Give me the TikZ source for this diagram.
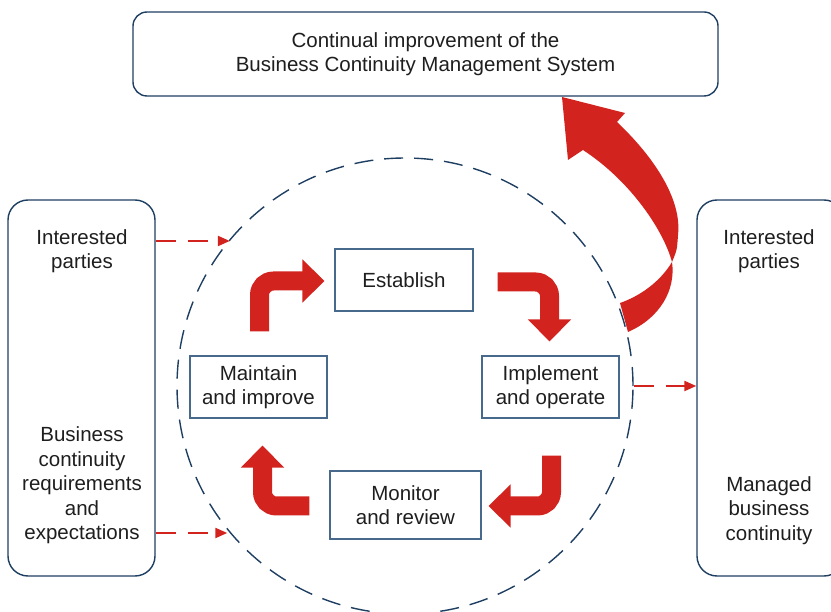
\documentclass[tikz,border=0pt]{standalone}
\usepackage{fontspec}
\setmainfont{Liberation Sans}
\usetikzlibrary{arrows.meta,calc}
\definecolor{bcred}{RGB}{210,35,30}
\definecolor{bcblue}{RGB}{70,105,140}
\definecolor{bcnavy}{RGB}{30,62,98}
\definecolor{bctext}{RGB}{30,30,30}

\begin{document}
\begin{tikzpicture}[x=1pt,y=-1pt,
    font=\fontsize{20.5}{24.5}\selectfont,text=bctext,
    stage/.style={draw=bcblue,line width=1.1pt,align=center,inner sep=0pt},
    frame/.style={draw=bcnavy,line width=1.4pt,rounded corners=20pt,inner sep=0pt},
    turn/.style={draw=bcred,line width=19pt,rounded corners=14pt,-{Triangle[width=42pt,length=22pt]}},
    feed/.style={draw=bcred,line width=2.2pt,dash pattern=on 20pt off 12pt,-{Triangle[width=10pt,length=12pt]}}]

  \useasboundingbox (0,0) rectangle (831,612);

  \node[frame,rounded corners=14pt,minimum width=585pt,minimum height=84pt,align=center] (cims) at (425.5,54)
    {Continual improvement of the\\Business Continuity Management System};

  \node[frame,minimum width=147pt,minimum height=376pt] (lbox) at (81.5,388) {};
  \node[frame,minimum width=147pt,minimum height=376pt] (rbox) at (770.5,388) {};

  \begin{scope}[every node/.style={align=center}]
    \node (lint) at (82,251) {Interested\\parties};
    \node (lreq) at (82,485.5) {Business\\continuity\\requirements\\and\\expectations};
    \node (rint) at (769,251) {Interested\\parties};
    \node (rman) at (769,510.5) {Managed\\business\\continuity};
  \end{scope}

  % improvement arrow
  \fill[bcred] (562,97) -- (625,113) -- (617,122)
    .. controls (655,158) and (682,200) .. (678,235)
    .. controls (677,250) .. (672,262)
    .. controls (676,290) and (660,318) .. (628,332) -- (620,303)
    .. controls (640,296) and (660,282) .. (672,262)
    .. controls (664,232) and (632,182) .. (583,150) -- (568,160) -- cycle;

  \node[circle,draw=bcnavy,line width=1.4pt,dash pattern=on 19pt off 11pt,
    minimum size=456pt,inner sep=0pt] (pdca) at (405,386) {};

  \node[stage,minimum width=138pt,minimum height=62pt] (establish) at (404,280) {Establish};
  \node[stage,minimum width=137pt,minimum height=62pt] (maintain)  at (258.5,387) {Maintain\\and improve};
  \node[stage,minimum width=137pt,minimum height=62pt] (implement) at (550.5,387) {Implement\\and operate};
  \node[stage,minimum width=151pt,minimum height=68pt] (monitor)   at (405.5,505) {Monitor\\and review};

  \draw[turn] ($(maintain.north)+(1,-24)$) |- ($(establish.west)+(-10,1)$);
  \draw[turn] ($(establish.east)+(24,2)$) -| ($(implement.north)+(-1,-14)$);
  \draw[turn] ($(implement.south)+(1,37)$) |- ($(monitor.east)+(7,1)$);
  \draw[turn] ($(monitor.west)+(-20,1)$) -| ($(maintain.south)+(4,27)$);

  \draw[feed] (lbox.east |- 0,241) -- (pdca.140.5 |- 0,241);
  \draw[feed] (lbox.east |- 0,533) -- (pdca.219.8 |- 0,533);
  \draw[feed] (pdca.east) -- (rbox.west |- pdca.east);

\end{tikzpicture}
\end{document}
